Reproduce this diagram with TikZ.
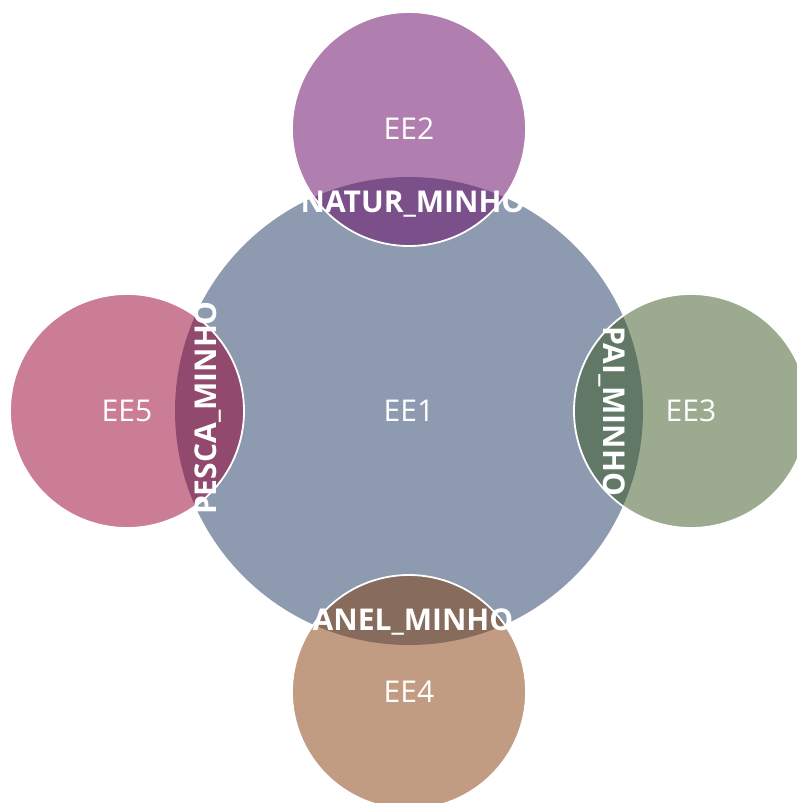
\documentclass[tikz,border=0pt]{standalone}
\usepackage{fontspec}
\setmainfont{Open Sans}
\usepackage{xcolor}
\usepackage{tikz}
\definecolor{hubfill}{HTML}{8D9AB0}
\definecolor{naturfill}{HTML}{B07FB0}
\definecolor{naturdark}{HTML}{7A4F8A}
\definecolor{paifill}{HTML}{9CAA90}
\definecolor{paidark}{HTML}{627866}
\definecolor{anelfill}{HTML}{C19C82}
\definecolor{aneldark}{HTML}{876B5C}
\definecolor{pescafill}{HTML}{CB7D96}
\definecolor{pescadark}{HTML}{92496E}
\tikzset{
    eehub/.style={circle, minimum size=468pt, inner sep=0pt, fill=hubfill, text=white, font=\fontsize{30}{34}\selectfont},
    eesat/.style={circle, minimum size=234pt, inner sep=0pt, text=white, font=\fontsize{30}{34}\selectfont},
    eering/.style={draw=white, line width=1.8pt},
    eelink/.style={text=white, inner sep=0pt, font=\fontsize{30}{34}\selectfont\bfseries}
}

\begin{document}
\begin{tikzpicture}[x=1pt, y=-1pt]
    \useasboundingbox (0,0) rectangle (797,803);
    \node[eehub] (ee1) at (409,411) {};
    \node[eesat, fill=naturfill] (ee2) at (409,129) {};
    \node[eesat, fill=paifill] (ee3) at (691,411) {};
    \node[eesat, fill=anelfill] (ee4) at (409,692) {};
    \node[eesat, fill=pescafill] (ee5) at (127,411) {};

    % overlaps
    \begin{scope}
        \clip (409,411) circle (234pt);
        \fill[naturdark] (409,129) circle (117pt);
        \fill[paidark] (691,411) circle (117pt);
        \fill[aneldark] (409,692) circle (117pt);
        \fill[pescadark] (127,411) circle (117pt);
    \end{scope}
    \draw[eering] (409,129) circle (117pt);
    \draw[eering] (691,411) circle (117pt);
    \draw[eering] (409,692) circle (117pt);
    \draw[eering] (127,411) circle (117pt);

    \node[eesat] (ee1text) at (ee1.center) {EE1};
    \node[eesat] (ee2text) at (ee2.center) {EE2};
    \node[eesat] (ee3text) at (ee3.center) {EE3};
    \node[eesat] (ee4text) at (ee4.center) {EE4};
    \node[eesat] (ee5text) at (ee5.center) {EE5};

    \node[eelink] (natur) at (413,204) {NATUR\_MINHO};
    \node[eelink, rotate=-90] (pai) at (612,411) {PAI\_MINHO};
    \node[eelink] (anel) at (413,622) {ANEL\_MINHO};
    \node[eelink, rotate=90] (pesca) at (208,408) {PESCA\_MINHO};
\end{tikzpicture}
\end{document}
